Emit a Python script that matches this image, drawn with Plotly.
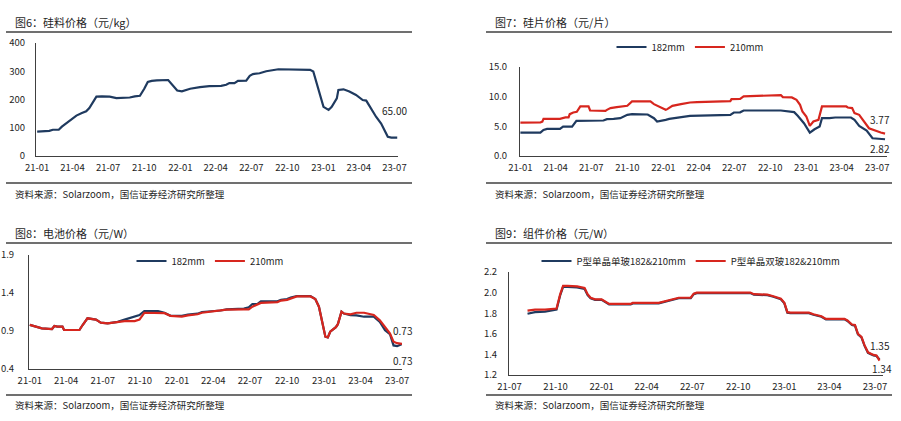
import plotly.graph_objects as go

# ---------------- data ----------------
# 图6 硅料价格 (元/kg)
si_dates = ["2021-01-01", "2021-01-20", "2021-02-01", "2021-02-10", "2021-02-25", "2021-03-05",
            "2021-03-16", "2021-03-28", "2021-04-11", "2021-04-25", "2021-05-06", "2021-05-14",
            "2021-05-24", "2021-06-01", "2021-06-15", "2021-07-05", "2021-07-22", "2021-08-10",
            "2021-08-25", "2021-09-07", "2021-09-20", "2021-10-01", "2021-10-10", "2021-10-20",
            "2021-11-02", "2021-12-01", "2021-12-14", "2021-12-24", "2022-01-05", "2022-01-15",
            "2022-01-26", "2022-02-20", "2022-03-16", "2022-04-15", "2022-04-28", "2022-05-06",
            "2022-05-19", "2022-05-28", "2022-06-18", "2022-06-27", "2022-07-05", "2022-07-22",
            "2022-08-08", "2022-09-08", "2022-11-02", "2022-11-28", "2022-12-06", "2022-12-14",
            "2022-12-23", "2023-01-01", "2023-01-14", "2023-01-22", "2023-02-04", "2023-02-08",
            "2023-02-21", "2023-03-08", "2023-03-25", "2023-04-11", "2023-04-20", "2023-05-02",
            "2023-05-15", "2023-05-28", "2023-06-14", "2023-06-23", "2023-07-08"]
si_price = [86, 87, 89, 93, 93, 104, 115, 128, 143, 152, 158, 170, 192, 210, 211, 210, 205, 205,
            207, 211, 213, 238, 262, 266, 268, 269, 249, 232, 229, 234, 238, 244, 247, 248, 252,
            258, 258, 266, 267, 284, 290, 293, 300, 307, 307, 305, 299, 258, 210, 174, 163, 174,
            204, 234, 236, 228, 216, 198, 196, 169, 139, 115, 68, 65, 65]

# 图7 硅片价格 (元/片)
wafer210_dates = ["2021-01-01", "2021-02-21", "2021-02-26", "2021-03-01", "2021-04-12", "2021-04-17",
                  "2021-04-26", "2021-05-04", "2021-05-07", "2021-05-16", "2021-05-25", "2021-06-03",
                  "2021-06-24", "2021-06-28", "2021-08-01", "2021-08-06", "2021-08-10", "2021-08-19",
                  "2021-09-04", "2021-09-22", "2021-10-01", "2021-10-13", "2021-11-29", "2021-12-08",
                  "2021-12-20", "2022-01-07", "2022-01-11", "2022-01-24", "2022-02-15", "2022-03-10",
                  "2022-03-28", "2022-05-10", "2022-06-21", "2022-06-24", "2022-07-16", "2022-07-25",
                  "2022-09-07", "2022-09-16", "2022-10-28", "2022-11-02", "2022-11-25", "2022-12-07",
                  "2022-12-16", "2022-12-22", "2023-01-01", "2023-01-10", "2023-01-19", "2023-02-01",
                  "2023-02-04", "2023-02-10", "2023-04-13", "2023-04-17", "2023-04-28", "2023-05-04",
                  "2023-05-16", "2023-05-28", "2023-06-10", "2023-07-10", "2023-07-21"]
wafer210 = [5.64, 5.65, 5.80, 6.26, 6.26, 6.37, 6.50, 6.50, 7.05, 7.33, 7.45, 8.35, 8.35, 7.67,
            7.60, 7.60, 7.78, 8.07, 8.23, 8.35, 8.46, 9.19, 9.19, 8.74, 8.35, 7.78, 7.90, 8.46,
            8.74, 9.02, 9.08, 9.19, 9.25, 9.59, 9.62, 10.04, 10.15, 10.27, 10.27, 9.93, 9.87,
            9.48, 8.63, 7.50, 6.66, 5.08, 5.81, 6.09, 6.94, 8.35, 8.35, 8.18, 8.07, 7.22, 6.94,
            5.92, 4.68, 3.95, 3.77]
wafer182_dates = ["2021-01-01", "2021-02-21", "2021-03-01", "2021-03-10", "2021-04-12", "2021-04-20",
                  "2021-05-13", "2021-05-24", "2021-08-01", "2021-08-10", "2021-08-27", "2021-09-13",
                  "2021-10-01", "2021-10-13", "2021-11-22", "2021-12-01", "2021-12-08", "2021-12-16",
                  "2021-12-28", "2022-01-07", "2022-01-16", "2022-02-15", "2022-03-10", "2022-06-21",
                  "2022-06-30", "2022-07-16", "2022-07-25", "2022-10-28", "2022-11-16", "2022-12-01",
                  "2022-12-10", "2022-12-19", "2022-12-26", "2023-01-10", "2023-01-22", "2023-02-04",
                  "2023-02-10", "2023-03-01", "2023-03-16", "2023-04-25", "2023-05-04", "2023-05-16",
                  "2023-06-04", "2023-06-19", "2023-07-21"]
wafer182 = [3.95, 3.95, 4.40, 4.57, 4.57, 4.96, 4.96, 5.92, 5.98, 6.20, 6.26, 6.37, 6.94, 7.05,
            7.00, 6.66, 6.37, 5.81, 5.92, 6.09, 6.26, 6.54, 6.77, 6.94, 7.33, 7.36, 7.67, 7.67,
            7.56, 7.39, 6.77, 6.09, 5.53, 3.95, 4.51, 4.96, 6.37, 6.37, 6.49, 6.49, 6.09, 5.08,
            4.29, 2.99, 2.82]

# 图8 电池价格 (元/W)
cell_dates = ["2021-01-01", "2021-01-31", "2021-02-25", "2021-03-03", "2021-03-10", "2021-03-23",
              "2021-03-27", "2021-05-04", "2021-05-12", "2021-05-24", "2021-06-14", "2021-06-26",
              "2021-07-13", "2021-08-07", "2021-08-24", "2021-09-18", "2021-09-30", "2021-10-12",
              "2021-11-15", "2021-12-01", "2021-12-16", "2022-01-13", "2022-01-28", "2022-02-21",
              "2022-03-04", "2022-04-19", "2022-05-04", "2022-06-16", "2022-06-28", "2022-07-07",
              "2022-07-19", "2022-07-28", "2022-09-07", "2022-09-16", "2022-10-01", "2022-10-10",
              "2022-10-25", "2022-11-28", "2022-12-10", "2022-12-19", "2022-12-28", "2023-01-04",
              "2023-01-10", "2023-01-16", "2023-01-30", "2023-02-04", "2023-02-13", "2023-02-19",
              "2023-03-07", "2023-03-22", "2023-04-10", "2023-05-04", "2023-05-19", "2023-06-01",
              "2023-06-13", "2023-06-22", "2023-07-01", "2023-07-13"]
cell182 = [0.98, 0.935, 0.926, 0.966, 0.957, 0.957, 0.913, 0.913, 0.979, 1.067, 1.05, 1.01, 1.00,
           1.02, 1.05, 1.088, 1.11, 1.163, 1.163, 1.14, 1.10, 1.10, 1.115, 1.128, 1.15, 1.17,
           1.185, 1.194, 1.211, 1.255, 1.255, 1.29, 1.29, 1.31, 1.32, 1.34, 1.36, 1.36, 1.32,
           1.22, 1.00, 0.825, 0.815, 0.89, 0.95, 0.99, 1.154, 1.13, 1.11, 1.105, 1.088, 1.088,
           1.02, 0.91, 0.86, 0.71, 0.70, 0.73]
cell210 = [0.98, 0.935, 0.926, 0.966, 0.957, 0.957, 0.913, 0.913, 0.979, 1.067, 1.05, 1.01, 1.00,
           1.02, 1.03, 1.03, 1.05, 1.14, 1.14, 1.135, 1.10, 1.09, 1.105, 1.12, 1.14, 1.165,
           1.18, 1.185, 1.185, 1.22, 1.25, 1.27, 1.28, 1.30, 1.31, 1.33, 1.355, 1.355, 1.32,
           1.22, 1.00, 0.825, 0.815, 0.89, 0.95, 0.99, 1.154, 1.13, 1.12, 1.14, 1.14, 1.11,
           1.04, 0.95, 0.87, 0.76, 0.74, 0.73]

# 图9 组件价格 (元/W)
mod_dates = ["2021-08-06", "2021-08-21", "2021-09-10", "2021-09-27", "2021-10-03", "2021-10-10",
             "2021-10-16", "2021-10-25", "2021-11-13", "2021-11-28", "2021-12-04", "2021-12-10",
             "2021-12-19", "2022-01-01", "2022-01-07", "2022-01-16", "2022-02-28", "2022-03-04",
             "2022-04-25", "2022-05-04", "2022-05-16", "2022-06-04", "2022-06-28", "2022-07-04",
             "2022-07-10", "2022-10-25", "2022-11-01", "2022-11-28", "2022-12-10", "2022-12-25",
             "2023-01-01", "2023-01-07", "2023-01-13", "2023-02-19", "2023-02-28", "2023-03-16",
             "2023-03-25", "2023-05-01", "2023-05-07", "2023-05-16", "2023-05-22", "2023-05-28",
             "2023-06-04", "2023-06-10", "2023-06-17", "2023-06-28", "2023-07-04", "2023-07-10"]
mod_single = [1.795, 1.81, 1.815, 1.825, 1.835, 1.97, 2.055, 2.055, 2.05, 2.035, 1.975, 1.945,
              1.93, 1.93, 1.915, 1.885, 1.885, 1.895, 1.895, 1.905, 1.925, 1.945, 1.945, 1.985,
              1.995, 1.995, 1.98, 1.975, 1.96, 1.935, 1.895, 1.805, 1.80, 1.80, 1.785, 1.765,
              1.74, 1.74, 1.725, 1.685, 1.68, 1.595, 1.565, 1.485, 1.415, 1.39, 1.385, 1.35]
mod_double = [1.825, 1.835, 1.835, 1.84, 1.845, 1.98, 2.065, 2.065, 2.06, 2.045, 1.985, 1.95,
              1.935, 1.935, 1.92, 1.89, 1.89, 1.90, 1.90, 1.91, 1.93, 1.95, 1.95, 1.99,
              2.0, 2.0, 1.985, 1.98, 1.965, 1.94, 1.90, 1.81, 1.805, 1.805, 1.79, 1.77,
              1.745, 1.745, 1.73, 1.69, 1.685, 1.60, 1.57, 1.49, 1.42, 1.395, 1.39, 1.34]

titles = ["图6：硅料价格（元/kg）", "图7：硅片价格（元/片）", "图8：电池价格（元/W）", "图9：组件价格（元/W）"]
source = "资料来源：Solarzoom，国信证券经济研究所整理"
name182, name210 = "182mm", "210mm"
name_single, name_double = "P型单晶单玻182&210mm", "P型单晶双玻182&210mm"

# ---------------- style ----------------
W, H = 901, 421
FONT = "Noto Sans CJK SC"
TXT = "#1e1e1e"
AX = "#404040"
BLUE = "#1F3A5F"
RED = "#D7261E"


def fx(px):
    return px / W


def fy(py):
    return 1 - py / H


fig = go.Figure()

fig.add_trace(go.Scatter(x=si_dates, y=si_price, mode="lines", line=dict(color=BLUE, width=2.2),
                         showlegend=False, xaxis="x", yaxis="y"))
fig.add_trace(go.Scatter(x=wafer182_dates, y=wafer182, mode="lines", name=name182,
                         line=dict(color=BLUE, width=2.2), xaxis="x2", yaxis="y2", legend="legend"))
fig.add_trace(go.Scatter(x=wafer210_dates, y=wafer210, mode="lines", name=name210,
                         line=dict(color=RED, width=2.2), xaxis="x2", yaxis="y2", legend="legend"))
fig.add_trace(go.Scatter(x=cell_dates, y=cell182, mode="lines", name=name182,
                         line=dict(color=BLUE, width=2.2), xaxis="x3", yaxis="y3", legend="legend2"))
fig.add_trace(go.Scatter(x=cell_dates, y=cell210, mode="lines", name=name210,
                         line=dict(color=RED, width=2.2), xaxis="x3", yaxis="y3", legend="legend2"))
fig.add_trace(go.Scatter(x=mod_dates, y=mod_single, mode="lines", name=name_single,
                         line=dict(color=BLUE, width=2.2), xaxis="x4", yaxis="y4", legend="legend3"))
fig.add_trace(go.Scatter(x=mod_dates, y=mod_double, mode="lines", name=name_double,
                         line=dict(color=RED, width=2.2), xaxis="x4", yaxis="y4", legend="legend3"))


def xax(dom, rng, anchor, tick0):
    return dict(domain=dom, range=rng, anchor=anchor, type="date", tickformat="%y-%m",
                dtick="M3", tick0=tick0, showline=True, linecolor=AX, linewidth=1,
                ticks="", showgrid=False, zeroline=False, ticklabelstandoff=3, automargin=False,
                tickfont=dict(family=FONT, size=9.5, color=TXT))


def yax(dom, rng, anchor, dtick, tick0, fmt, standoff):
    return dict(domain=dom, range=rng, anchor=anchor, dtick=dtick, tick0=tick0, tickformat=fmt,
                showline=True, linecolor=AX, linewidth=1, ticks="", showgrid=False,
                zeroline=False, ticklabelstandoff=standoff, automargin=False,
                tickfont=dict(family=FONT, size=9.5, color=TXT))


legend_common = dict(orientation="h", xanchor="center", yanchor="middle",
                     bgcolor="rgba(0,0,0,0)", font=dict(family=FONT, size=9.5, color=TXT),
                     itemwidth=30, tracegroupgap=0)

fig.update_layout(
    width=W, height=H, margin=dict(l=0, r=0, t=0, b=0, pad=0, autoexpand=False),
    paper_bgcolor="white", plot_bgcolor="white",
    font=dict(family=FONT, color=TXT),
    xaxis=xax([fx(36), fx(398)], ["2020-12-29", "2023-07-10"], "y", "2021-01-01"),
    yaxis=yax([fy(156), fy(43)], [0, 400], "x", 100, 0, "d", 8),
    xaxis2=xax([fx(520), fx(887)], ["2020-12-31", "2023-07-26"], "y2", "2021-01-01"),
    yaxis2=yax([fy(156), fy(67)], [0, 15], "x2", 5, 0, ".1f", 10),
    xaxis3=xax([fx(29), fx(402)], ["2020-12-30", "2023-07-13"], "y3", "2021-01-01"),
    yaxis3=yax([fy(369), fy(255)], [0.4, 1.9], "x3", 0.5, 0.4, ".1f", 12),
    xaxis4=xax([fx(509), fx(883)], ["2021-06-30", "2023-07-17"], "y4", "2021-07-01"),
    yaxis4=yax([fy(375), fy(272)], [1.2, 2.2], "x4", 0.2, 1.2, ".1f", 9),
    legend=dict(x=fx(690), y=fy(47), **legend_common),
    legend2=dict(x=fx(210), y=fy(261), **legend_common),
    legend3=dict(x=fx(691), y=fy(261), **legend_common),
)

shapes = []
for (x0, x1) in [(6, 412), (486, 892)]:
    for yy in (32, 183, 243, 395):
        shapes.append(dict(type="line", xref="paper", yref="paper", x0=fx(x0), x1=fx(x1),
                           y0=fy(yy), y1=fy(yy), line=dict(color=AX, width=1.3)))
fig.update_layout(shapes=shapes)

ann = []
for t, (px, py) in zip(titles, [(13, 22), (493, 22), (13, 233), (493, 233)]):
    ann.append(dict(text=t, xref="paper", yref="paper", x=fx(px), y=fy(py), xanchor="left",
                    yanchor="middle", showarrow=False, font=dict(family=FONT, size=11, color=TXT)))
for (px, py) in [(13, 194), (493, 194), (13, 405), (493, 405)]:
    ann.append(dict(text=source, xref="paper", yref="paper", x=fx(px), y=fy(py), xanchor="left",
                    yanchor="middle", showarrow=False, font=dict(family=FONT, size=9.5, color=TXT)))


def end_label(xs, ys, xr, yr, yshift, xshift=-4):
    return dict(text=f"{ys[-1]:.2f}", x=xs[-1], y=ys[-1], xref=xr, yref=yr, showarrow=False,
                xanchor="center", yanchor="middle", xshift=xshift, yshift=yshift,
                font=dict(family=FONT, size=10, color=TXT))


ann.append(end_label(si_dates, si_price, "x", "y", 27, -3))
ann.append(end_label(wafer210_dates, wafer210, "x2", "y2", 14, -5))
ann.append(end_label(wafer182_dates, wafer182, "x2", "y2", -9, -5))
ann.append(end_label(cell_dates, cell210, "x3", "y3", 13, 0))
ann.append(end_label(cell_dates, cell182, "x3", "y3", -17, 0))
ann.append(end_label(mod_dates, mod_single, "x4", "y4", 14, 0))
ann.append(end_label(mod_dates, mod_double, "x4", "y4", -8, 2))
fig.update_layout(annotations=ann)

fig.write_html("out.html", config={"displayModeBar": False},
               post_script="document.body.style.margin='0px';document.body.style.overflow='hidden';")
